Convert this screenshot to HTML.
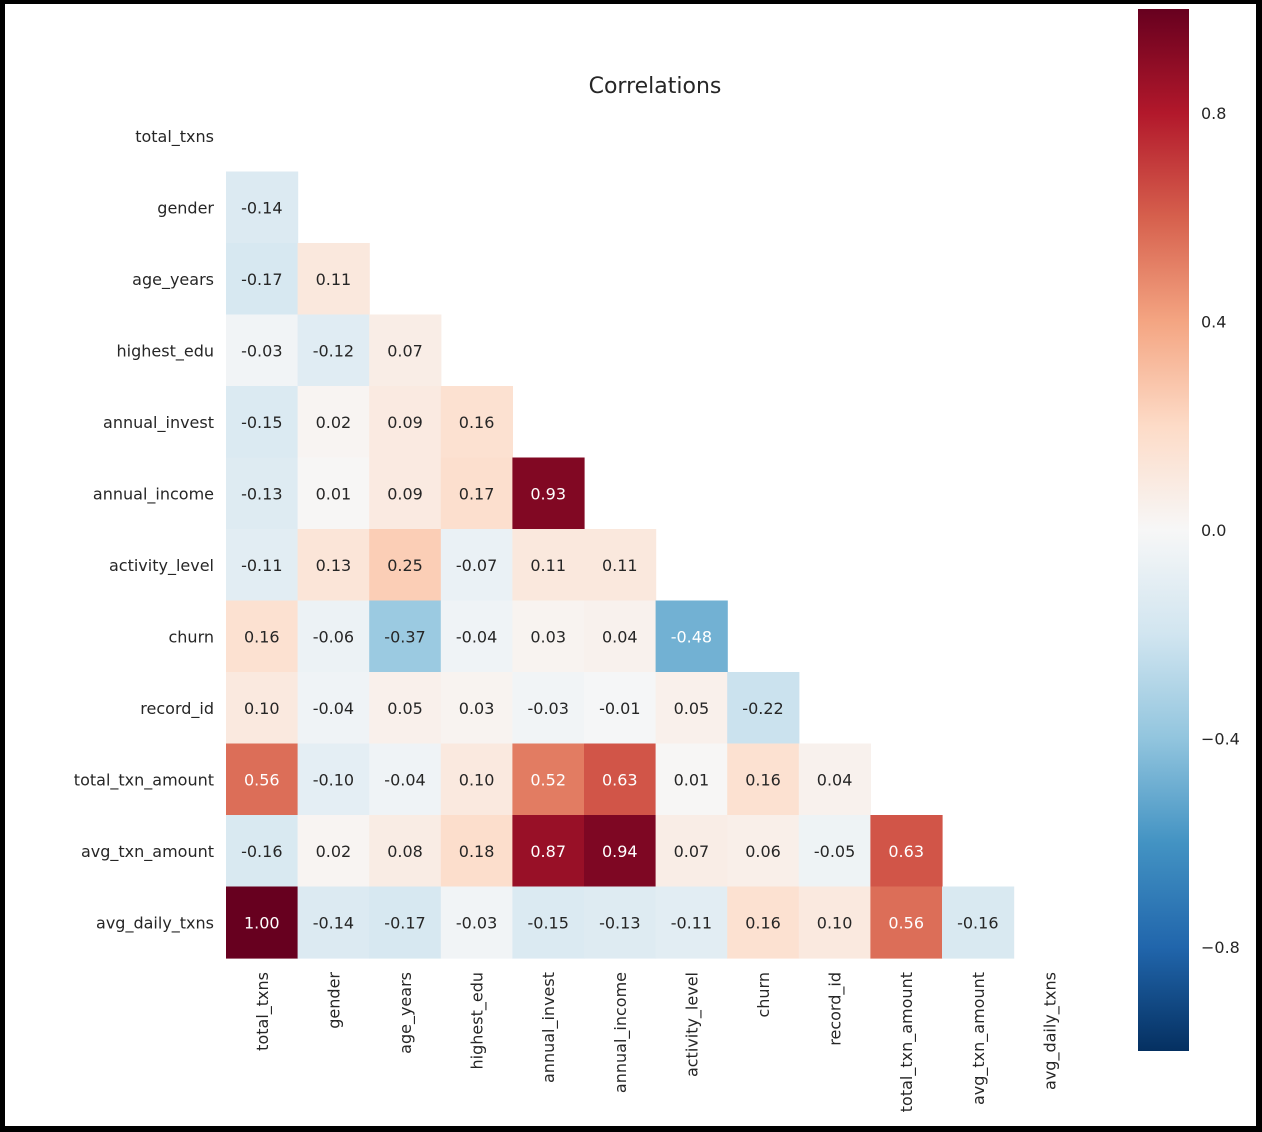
<!DOCTYPE html>
<html><head><meta charset="utf-8">
<style>
html,body{margin:0;padding:0;background:#000;}
#wrap{position:absolute;left:0;top:0;width:1262px;height:1132px;background:#000;}
svg{position:absolute;left:0;top:0;}
text{font-family:"DejaVu Sans","Liberation Sans",sans-serif;}
</style></head>
<body>
<div id="wrap">
<svg id="chart" width="1262" height="1132">
  <defs>
    <linearGradient id="cbgrad" x1="0" y1="1" x2="0" y2="0">
      <stop offset="0" stop-color="#053061"/><stop offset="0.1" stop-color="#2166ac"/>
      <stop offset="0.2" stop-color="#4393c3"/><stop offset="0.3" stop-color="#92c5de"/>
      <stop offset="0.4" stop-color="#d1e5f0"/><stop offset="0.5" stop-color="#f7f7f7"/>
      <stop offset="0.6" stop-color="#fddbc7"/><stop offset="0.7" stop-color="#f4a582"/>
      <stop offset="0.8" stop-color="#d6604d"/><stop offset="0.9" stop-color="#b2182b"/>
      <stop offset="1" stop-color="#67001f"/>
    </linearGradient>
  </defs>
  <rect x="5" y="4" width="1251" height="1122" fill="#ffffff"/>
  <text x="655" y="93" text-anchor="middle" font-size="22" fill="#262626">Correlations</text>
  <g id="cells"></g>
  <g id="ylabels"></g>
  <g id="xlabels"></g>
  <rect x="1138" y="9" width="51" height="1042" fill="url(#cbgrad)"/>
  <g id="cbticks"></g>
</svg>
</div>
<script>
const labels = ["total_txns","gender","age_years","highest_edu","annual_invest","annual_income","activity_level","churn","record_id","total_txn_amount","avg_txn_amount","avg_daily_txns"];
const row1 = [-0.14];
const row2 = [-0.17,0.11];
const row3 = [-0.03,-0.12,0.07];
const row4 = [-0.15,0.02,0.09,0.16];
const row5 = [-0.13,0.01,0.09,0.17,0.93];
const row6 = [-0.11,0.13,0.25,-0.07,0.11,0.11];
const row7 = [0.16,-0.06,-0.37,-0.04,0.03,0.04,-0.48];
const row8 = [0.10,-0.04,0.05,0.03,-0.03,-0.01,0.05,-0.22];
const row9 = [0.56,-0.10,-0.04,0.10,0.52,0.63,0.01,0.16,0.04];
const row10 = [-0.16,0.02,0.08,0.18,0.87,0.94,0.07,0.06,-0.05,0.63];
const row11 = [1.00,-0.14,-0.17,-0.03,-0.15,-0.13,-0.11,0.16,0.10,0.56,-0.16];
const rows = [[],row1,row2,row3,row4,row5,row6,row7,row8,row9,row10,row11];
const cbTicks = [0.8,0.4,0.0,-0.4,-0.8];

const NS="http://www.w3.org/2000/svg";
const X0=226, Y0=100, CW=71.6, CH=71.5;
const cx = i => X0 + i*CW;
const cy = j => Y0 + j*CH;
const CB_TOP=9, CB_H=1042;
const cbY = v => CB_TOP + (1 - v)/2 * CB_H;

const stops=["#053061","#2166ac","#4393c3","#92c5de","#d1e5f0","#f7f7f7","#fddbc7","#f4a582","#d6604d","#b2182b","#67001f"];
function hex(h){return [1,3,5].map(k=>parseInt(h.substr(k,2),16));}
function color(v){
  let t=(Math.max(-1,Math.min(1,v))+1)/2*10;
  let i=Math.min(9,Math.floor(t)), f=t-i;
  const a=hex(stops[i]), b=hex(stops[i+1]);
  return "rgb("+a.map((c,k)=>Math.round(c+(b[k]-c)*f)).join(",")+")";
}
const fmt = v => { const s=Math.abs(v).toFixed(2); return (v<0?"-":"")+s; };

const cells=document.getElementById("cells");
rows.forEach((r,j)=>{
  r.forEach((v,i)=>{
    const rc=document.createElementNS(NS,"rect");
    rc.setAttribute("x",cx(i)); rc.setAttribute("y",cy(j));
    rc.setAttribute("width",CW+0.6); rc.setAttribute("height",CH+0.6);
    rc.setAttribute("fill",color(v));
    
    
    cells.appendChild(rc);
    const t=document.createElementNS(NS,"text");
    t.setAttribute("x",cx(i)+CW/2); t.setAttribute("y",cy(j)+CH/2+6);
    t.setAttribute("text-anchor","middle"); t.setAttribute("font-size","16");
    t.setAttribute("fill", Math.abs(v)>0.45 ? "#ffffff" : "#262626");
    t.textContent=fmt(v);
    
    
    cells.appendChild(t);
  });
});
const yl=document.getElementById("ylabels"), xl=document.getElementById("xlabels");
labels.forEach((l,k)=>{
  const t=document.createElementNS(NS,"text");
  t.setAttribute("x",X0-12); t.setAttribute("y",cy(k)+CH/2+6);
  t.setAttribute("text-anchor","end"); t.setAttribute("font-size","16"); t.setAttribute("fill","#262626");
  t.textContent=l;
  
  
  yl.appendChild(t);
  const u=document.createElementNS(NS,"text");
  const x=cx(k)+CW/2+6, y=cy(12)+14;
  u.setAttribute("x",x); u.setAttribute("y",y);
  u.setAttribute("transform","rotate(-90 "+x+" "+y+")");
  u.setAttribute("text-anchor","end"); u.setAttribute("font-size","16"); u.setAttribute("fill","#262626");
  u.textContent=l;
  
  
  xl.appendChild(u);
});
const cbt=document.getElementById("cbticks");
cbTicks.forEach(v=>{
  const t=document.createElementNS(NS,"text");
  t.setAttribute("x",1201); t.setAttribute("y",cbY(v)+6);
  t.setAttribute("font-size","16"); t.setAttribute("fill","#262626");
  t.textContent = v<0 ? "\u2212"+Math.abs(v).toFixed(1) : v.toFixed(1);
  
  
  cbt.appendChild(t);
});
</script>
</body></html>
